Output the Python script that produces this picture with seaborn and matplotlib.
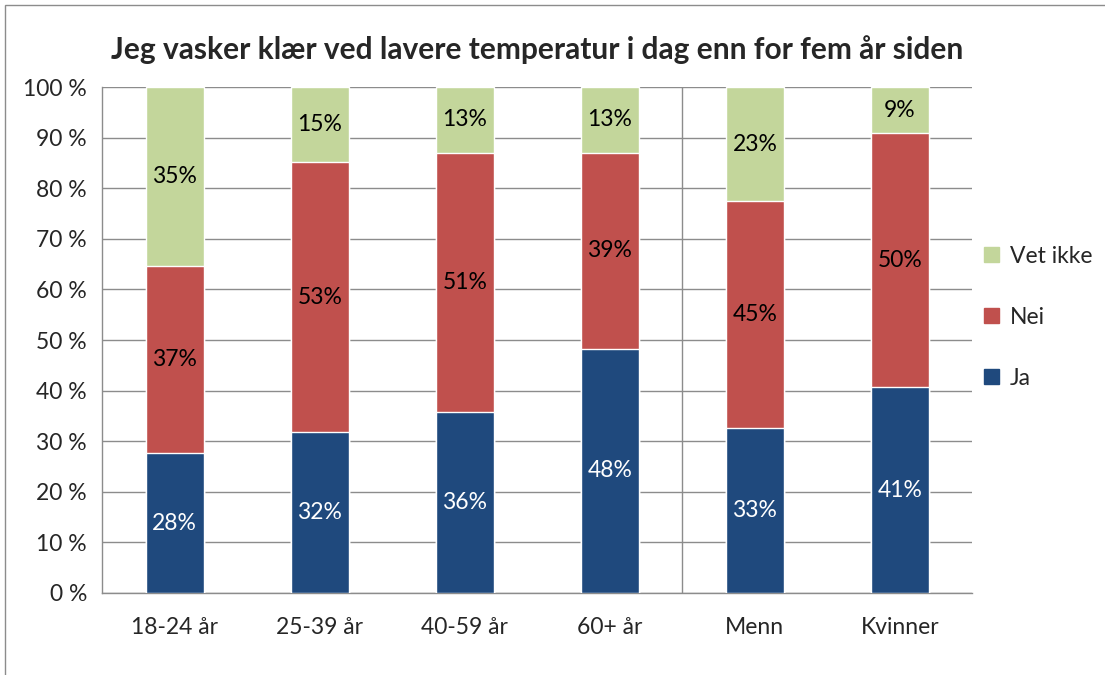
import numpy as np
import matplotlib.pyplot as plt
import pandas as pd
import seaborn as sns
from matplotlib.patches import Patch, Rectangle

# Chart data (percent shares per group)
categories = ["18-24 år", "25-39 år", "40-59 år", "60+ år", "Menn", "Kvinner"]
ja = [27.6, 31.9, 35.8, 48.3, 32.6, 40.7]
nei = [37.0, 53.2, 51.2, 38.7, 44.8, 50.2]
vet_ikke = [35.4, 14.9, 13.0, 13.0, 22.6, 9.1]
yticks = [0, 10, 20, 30, 40, 50, 60, 70, 80, 90, 100]

colors = {"Ja": "#1F497D", "Nei": "#C0504D", "Vet ikke": "#C3D69B"}
grid_col = "#8c8c8c"
fs = 16.5

sns.set_style("white")
plt.rcParams["font.family"] = ["Lato", "DejaVu Sans"]

df = pd.DataFrame({"kategori": categories, "Ja": ja, "Nei": nei, "Vet ikke": vet_ikke})
df["top_nei"] = df["Ja"] + df["Nei"]
df["top_vet"] = df["top_nei"] + df["Vet ikke"]

fig = plt.figure(figsize=(11.05, 6.75), dpi=100)
ax = fig.add_axes([0.0925, 0.1215, 0.7875, 0.7495])

# stacked bars drawn back to front
sns.barplot(data=df, x="kategori", y="top_vet", color=colors["Vet ikke"], width=0.4,
            saturation=1, ax=ax, zorder=3)
sns.barplot(data=df, x="kategori", y="top_nei", color=colors["Nei"], width=0.4,
            saturation=1, ax=ax, zorder=3)
sns.barplot(data=df, x="kategori", y="Ja", color=colors["Ja"], width=0.4,
            saturation=1, ax=ax, zorder=3)

# value labels in the middle of each segment
for i in range(len(categories)):
    segs = [(0, ja[i], "white"), (ja[i], nei[i], "black"), (ja[i] + nei[i], vet_ikke[i], "black")]
    for base, val, tc in segs:
        ax.text(i, base + val / 2, f"{val:.0f}%", ha="center", va="center",
                fontsize=fs, color=tc, zorder=4)

ax.set_ylim(0, 100)
ax.set_xlim(-0.5, len(categories) - 0.5)
ax.set_yticks(yticks)
ax.set_yticklabels([f"{t} %" for t in yticks], fontsize=fs)
ax.set_xticks(range(len(categories)))
ax.set_xticklabels(categories, fontsize=fs)
ax.set_xticks(np.arange(-0.5, len(categories), 1.0), minor=True)
ax.tick_params(axis="x", which="major", length=0, pad=17)
ax.tick_params(axis="x", which="minor", length=8, color=grid_col, width=1)
ax.tick_params(axis="y", length=5, color=grid_col, width=1, pad=6)
ax.set_xlabel("")
ax.set_ylabel("")

ax.yaxis.grid(True, color=grid_col, linewidth=1, zorder=0)
ax.set_axisbelow(True)
for s in ["top", "right"]:
    ax.spines[s].set_visible(False)
for s in ["left", "bottom"]:
    ax.spines[s].set_color(grid_col)
    ax.spines[s].set_linewidth(1)

# separator between age groups and gender
ax.axvline(3.5, color=grid_col, linewidth=1, zorder=1)

ax.set_title("Jeg vasker klær ved lavere temperatur i dag enn for fem år siden",
             fontsize=21.5, fontweight="bold", pad=20)

handles = [Patch(color=colors[k]) for k in ["Vet ikke", "Nei", "Ja"]]
ax.legend(handles, ["Vet ikke", "Nei", "Ja"], loc="center left", bbox_to_anchor=(0.99, 0.545),
          frameon=False, fontsize=fs, handlelength=0.65, handleheight=0.65,
          labelspacing=1.75, handletextpad=0.45)

# outer chart frame
fig.patches.append(Rectangle((5 / 1105, -0.05), 1.2, 1.05 - 5 / 675, transform=fig.transFigure,
                             fill=False, edgecolor=grid_col, linewidth=1))

fig.savefig("out.png", dpi=100)
